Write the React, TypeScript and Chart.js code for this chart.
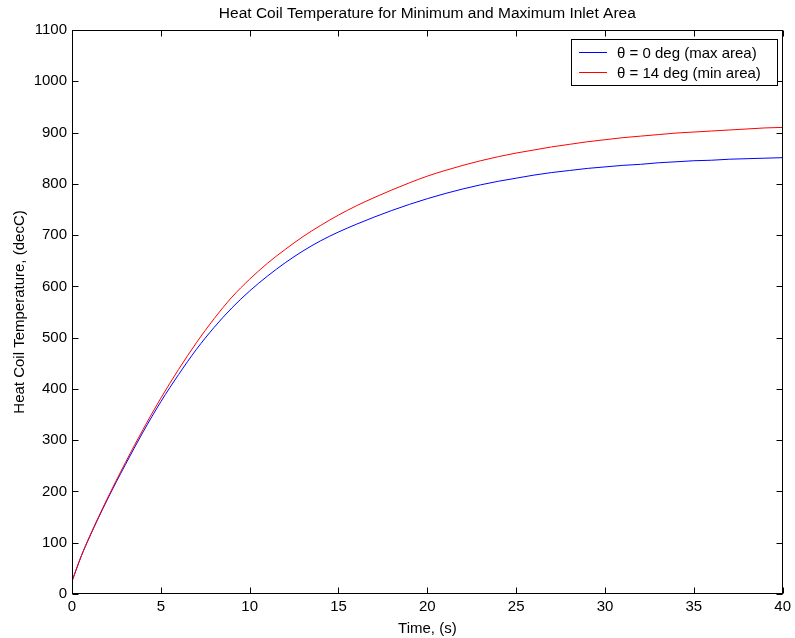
import React, { useEffect, useRef } from "react";
import { Chart, registerables } from "chart.js";

Chart.register(...registerables);

const TIME_S = [
  0, 0.5, 1, 2, 3, 4, 5, 6, 7, 8, 9, 10, 11, 12, 13, 14, 15, 16, 17, 18, 19, 20,
  21, 22, 23, 24, 25, 26, 27, 28, 29, 30, 31, 32, 33, 34, 35, 36, 37, 38, 39, 40,
];

// theta = 0 deg (max area)
const TEMP_MAX_AREA = [
  25, 72, 112, 185, 252, 316, 375, 428, 477, 520, 558, 591, 620, 646, 669, 689,
  706, 721, 735, 748, 760, 771, 781, 790, 798, 805, 811, 817, 822, 826, 830,
  833, 836, 838, 841, 843, 845, 846, 848, 849, 850, 851,
];

// theta = 14 deg (min area)
const TEMP_MIN_AREA = [
  25, 72, 113, 187, 256, 321, 382, 438, 490, 537, 579, 614, 645, 672, 697, 719,
  739, 757, 773, 788, 802, 815, 826, 836, 845, 853, 860, 866, 872, 877, 882,
  886, 890, 893, 896, 899, 901, 903, 905, 907, 909, 910,
];

const X_TICKS = [0, 5, 10, 15, 20, 25, 30, 35, 40];
const Y_TICKS = [0, 100, 200, 300, 400, 500, 600, 700, 800, 900, 1000, 1100];

const TITLE = "Heat Coil Temperature for Minimum and Maximum Inlet Area";
const X_TITLE = "Time, (s)";
const Y_TITLE = "Heat Coil Temperature, (decC)";
const LEGEND_LABELS = ["\u03b8 = 0 deg (max area)", "\u03b8 = 14 deg (min area)"];
const SERIES_COLORS = ["#0000ff", "#ff0000"];

const FONT = "'Liberation Sans', Arial, Helvetica, sans-serif";
const FONT_SIZE = 15;
const TITLE_SIZE = 15.5;

const decorPlugin = {
  id: "matlabDecor",
  afterDraw(chart: any) {
    const ctx = chart.ctx as CanvasRenderingContext2D;
    const { left, right, top, bottom } = chart.chartArea;
    const xs = chart.scales.x;
    const ys = chart.scales.y;
    const L = Math.round(left) + 0.5;
    const R = Math.round(right) - 0.5;
    const T = Math.round(top) + 0.5;
    const B = Math.round(bottom) - 0.5;
    ctx.save();
    ctx.strokeStyle = "#000";
    ctx.lineWidth = 1;
    ctx.strokeRect(L, T, R - L, B - T);
    const tl = 6;
    ctx.beginPath();
    X_TICKS.forEach((v) => {
      const px = Math.round(xs.getPixelForValue(v)) + 0.5;
      ctx.moveTo(px, B);
      ctx.lineTo(px, B - tl);
      ctx.moveTo(px, T);
      ctx.lineTo(px, T + tl);
    });
    Y_TICKS.forEach((v) => {
      const py = Math.round(ys.getPixelForValue(v)) + 0.5;
      ctx.moveTo(L, py);
      ctx.lineTo(L + tl, py);
      ctx.moveTo(R, py);
      ctx.lineTo(R - tl, py);
    });
    ctx.stroke();

    ctx.fillStyle = "#000";
    ctx.textBaseline = "alphabetic";
    ctx.textAlign = "center";
    ctx.font = `${TITLE_SIZE}px ${FONT}`;
    ctx.fillText(TITLE, (left + right) / 2, 17.5);
    ctx.font = `${FONT_SIZE}px ${FONT}`;
    ctx.fillText(X_TITLE, (left + right) / 2, 633);
    ctx.save();
    ctx.translate(24, (top + bottom) / 2);
    ctx.rotate(-Math.PI / 2);
    ctx.fillText(Y_TITLE, 0, 0);
    ctx.restore();

    // legend
    const lx = 571.5, ly = 39.5, lw = 206, lh = 46;
    ctx.fillStyle = "#fff";
    ctx.fillRect(lx, ly, lw, lh);
    ctx.strokeStyle = "#000";
    ctx.strokeRect(lx, ly, lw, lh);
    LEGEND_LABELS.forEach((label, i) => {
      const yLine = 52.5 + i * 20;
      ctx.strokeStyle = SERIES_COLORS[i];
      ctx.beginPath();
      ctx.moveTo(579, yLine);
      ctx.lineTo(607, yLine);
      ctx.stroke();
      ctx.fillStyle = "#000";
      ctx.textAlign = "left";
      ctx.fillText(label, 617, 57.5 + i * 20);
    });
    ctx.restore();
  },
};

export default function App() {
  const ref = useRef<HTMLCanvasElement | null>(null);
  useEffect(() => {
    document.body.style.margin = "0";
    const canvas = ref.current;
    if (!canvas) return;
    const toPts = (ys: number[]) => TIME_S.map((t, i) => ({ x: t, y: ys[i] }));
    const chart = new Chart(canvas, {
      type: "line",
      data: {
        datasets: [
          {
            label: LEGEND_LABELS[0],
            data: toPts(TEMP_MAX_AREA),
            borderColor: SERIES_COLORS[0],
            borderWidth: 1,
            pointRadius: 0,
            fill: false,
            cubicInterpolationMode: "monotone",
            order: 1,
          },
          {
            label: LEGEND_LABELS[1],
            data: toPts(TEMP_MIN_AREA),
            borderColor: SERIES_COLORS[1],
            borderWidth: 1,
            pointRadius: 0,
            fill: false,
            cubicInterpolationMode: "monotone",
            order: 0,
          },
        ],
      },
      options: {
        responsive: false,
        animation: false,
        devicePixelRatio: 1,
        layout: { padding: { left: 0, top: 30, right: 9, bottom: 0 } },
        plugins: {
          legend: { display: false },
          title: { display: false },
          tooltip: { enabled: false },
        },
        scales: {
          x: {
            type: "linear",
            min: 0,
            max: 40,
            afterBuildTicks: (s: any) => {
              s.ticks = X_TICKS.map((v) => ({ value: v }));
            },
            afterFit: (s: any) => {
              s.height = 44;
            },
            grid: { display: false, drawTicks: false },
            border: { display: false },
            ticks: {
              color: "#000",
              padding: 4,
              maxRotation: 0,
              callback: (v: any) => String(v),
              font: { family: FONT, size: FONT_SIZE },
            },
          },
          y: {
            type: "linear",
            min: 0,
            max: 1100,
            afterBuildTicks: (s: any) => {
              s.ticks = Y_TICKS.map((v) => ({ value: v }));
            },
            afterFit: (s: any) => {
              s.width = 72;
            },
            grid: { display: false, drawTicks: false },
            border: { display: false },
            ticks: {
              color: "#000",
              padding: 5,
              callback: (v: any) => String(v),
              font: { family: FONT, size: FONT_SIZE },
            },
          },
        },
      },
      plugins: [decorPlugin],
    });
    return () => chart.destroy();
  }, []);
  return (
    <div style={{ width: 795, height: 638, background: "#fff" }}>
      <canvas ref={ref} width={795} height={638} style={{ display: "block" }} />
    </div>
  );
}
